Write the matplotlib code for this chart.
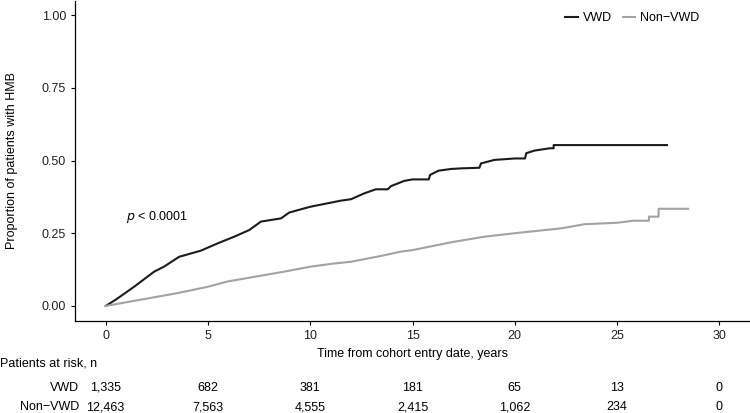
import matplotlib
matplotlib.use("Agg")
import matplotlib.pyplot as plt
import matplotlib.transforms as mtransforms

plt.rcParams['font.family'] = ['Liberation Sans', 'DejaVu Sans']
plt.rcParams['font.size'] = 9

# cumulative incidence
vwd_t = [0, 0.5, 1.39, 2.37, 2.85, 3.59, 4.65, 5.47, 6.28, 7.02, 7.59, 8.57, 8.97,
         10, 11.0, 11.5, 12.0, 12.64, 13.2, 13.79, 13.95, 14.6, 15.0, 15.8, 15.85,
         16.27, 16.9, 17.4, 18.27, 18.35, 19.0, 20.0, 20.5, 20.56, 20.96, 21.7,
         21.9, 21.9, 27.44]
vwd_p = [0, 0.022, 0.066, 0.118, 0.135, 0.169, 0.19, 0.215, 0.238, 0.261, 0.29,
         0.301, 0.321, 0.341, 0.355, 0.362, 0.367, 0.387, 0.401, 0.401, 0.412,
         0.43, 0.435, 0.435, 0.45, 0.465, 0.471, 0.473, 0.475, 0.49, 0.502, 0.507,
         0.507, 0.525, 0.534, 0.542, 0.542, 0.553, 0.553]

non_t = [0, 3.5, 5.0, 5.95, 8.73, 10, 11.17, 12, 13.46, 14.44, 15, 16.9, 18.5,
         20, 22.3, 23.4, 25, 25.8, 26.56, 26.56, 27.03, 27.03, 28.47]
non_p = [0, 0.044, 0.066, 0.084, 0.118, 0.135, 0.146, 0.152, 0.172, 0.187,
         0.192, 0.219, 0.238, 0.25, 0.267, 0.281, 0.286, 0.293, 0.293, 0.307,
         0.307, 0.334, 0.334]

# number at risk table
risk_times = [0, 5, 10, 15, 20, 25, 30]
risk_vwd = ['1,335', '682', '381', '181', '65', '13', '0']
risk_non = ['12,463', '7,563', '4,555', '2,415', '1,062', '234', '0']

fig = plt.figure(figsize=(7.5, 4.13), dpi=100)
ax = fig.add_axes([0.1, 1 - 320.5 / 413, 0.9, 320 / 413])

ax.plot(vwd_t, vwd_p, color='#1c1c1c', lw=1.5, label='VWD')
ax.plot(non_t, non_p, color='#a3a3a3', lw=1.5, label='Non\u2212VWD')

ax.set_xlim(-1.5, 31.5)
ax.set_ylim(-0.05, 1.05)
ax.set_xticks([0, 5, 10, 15, 20, 25, 30])
ax.set_yticks([0, 0.25, 0.5, 0.75, 1.0])
ax.set_yticklabels(['0.00', '0.25', '0.50', '0.75', '1.00'])
ax.spines['top'].set_visible(False)
ax.spines['right'].set_visible(False)
for s in ['left', 'bottom']:
    ax.spines[s].set_linewidth(0.9)
ax.tick_params(direction='out', length=3, width=0.8, colors='black',
               labelsize=9, labelcolor='#222222')
ax.set_xlabel('Time from cohort entry date, years', fontsize=9, labelpad=5)
ax.set_ylabel('Proportion of patients with HMB', fontsize=9, labelpad=17)

ax.text(0.98, 0.306, r'$p$ < 0.0001', fontsize=9, ha='left', va='center')

fig.legend(loc='center left', bbox_to_anchor=(565 / 750, 1 - 18 / 413),
           ncol=2, frameon=False, handlelength=1.0, handletextpad=0.4,
           columnspacing=0.9, borderpad=0, borderaxespad=0, fontsize=9)

# risk table under the plot
tr = mtransforms.blended_transform_factory(ax.transData, fig.transFigure)
fig.text(0.0, 1 - 364 / 413, 'Patients at risk, n', fontsize=9, va='center')
fig.text(79 / 750, 1 - 388 / 413, 'VWD', fontsize=9, ha='right', va='center')
fig.text(79 / 750, 1 - 407 / 413, 'Non\u2212VWD', fontsize=9, ha='right', va='center')
for t, a, b in zip(risk_times, risk_vwd, risk_non):
    ax.text(t, 1 - 388 / 413, a, transform=tr, fontsize=9, ha='center',
            va='center', clip_on=False)
    ax.text(t, 1 - 407 / 413, b, transform=tr, fontsize=9, ha='center',
            va='center', clip_on=False)

fig.savefig('out.png', dpi=100)
